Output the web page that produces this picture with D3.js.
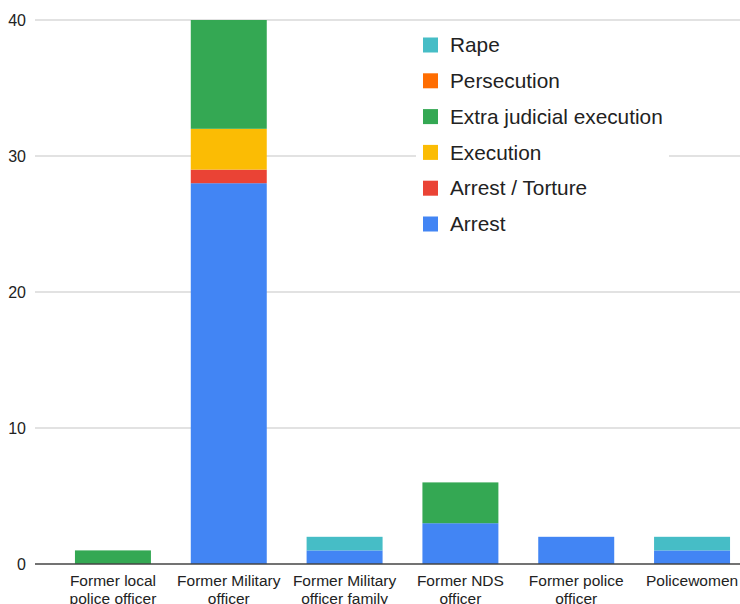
<!DOCTYPE html>
<html>
<head>
<meta charset="utf-8">
<script src="https://cdn.jsdelivr.net/npm/d3@7"></script>
<style>
  html, body { margin: 0; padding: 0; background: #fff; }
  svg { display: block; font-family: Arial, "Liberation Sans", sans-serif; }
</style>
</head>
<body>
<svg id="chart" width="740" height="604"></svg>
<script>
const categories = ["Former local police officer", "Former Military officer", "Former Military officer family", "Former NDS officer", "Former police officer", "Policewomen"];
const categoryLabelLines = [["Former local", "police officer"], ["Former Military", "officer"], ["Former Military", "officer family"], ["Former NDS", "officer"], ["Former police", "officer"], ["Policewomen"]];
const seriesNames = ["Arrest", "Arrest / Torture", "Execution", "Extra judicial execution", "Persecution", "Rape"];
const arrest = [0, 28, 1, 3, 2, 1];
const arrestTorture = [0, 1, 0, 0, 0, 0];
const execution = [0, 3, 0, 0, 0, 0];
const extraJudicial = [1, 8, 0, 3, 0, 0];
const persecution = [0, 0, 0, 0, 0, 0];
const rape = [0, 0, 1, 0, 0, 1];
const yTicks = [0, 10, 20, 30, 40];
const colors = ["#4285F4", "#EA4335", "#FBBC04", "#34A853", "#FF6D01", "#46BDC6"];

const seriesValues = [arrest, arrestTorture, execution, extraJudicial, persecution, rape];
const table = categories.map((c, i) => {
  const row = { category: c };
  seriesNames.forEach((s, j) => row[s] = seriesValues[j][i]);
  return row;
});

const svg = d3.select("#chart");
const plotLeft = 35, plotRight = 770, plotTop = 20, plotBottom = 564;

const x = d3.scaleBand().domain(categories).range([plotLeft, plotRight]).paddingInner(0.344).paddingOuter(0.345);
const y = d3.scaleLinear().domain([0, 40]).range([plotBottom, plotTop]);

// gridlines
svg.append("g").selectAll("line").data(yTicks.filter(d => d > 0)).join("line")
  .attr("x1", plotLeft).attr("x2", 740)
  .attr("y1", d => y(d)).attr("y2", d => y(d))
  .attr("stroke", "#d9d9d9").attr("stroke-width", 1.3);

// y labels
svg.append("g").selectAll("text").data(yTicks).join("text")
  .attr("x", 26).attr("y", d => y(d)).attr("dy", "0.35em")
  .attr("text-anchor", "end").attr("font-size", 16).attr("fill", "#222")
  .text(d => d);

// stacks
const stack = d3.stack().keys(seriesNames)(table);
svg.append("g").selectAll("g").data(stack).join("g")
  .attr("fill", (d, i) => colors[i])
  .selectAll("rect").data(d => d).join("rect")
  .attr("x", d => x(d.data.category))
  .attr("width", x.bandwidth())
  .attr("y", d => y(d[1]))
  .attr("height", d => y(d[0]) - y(d[1]));

// baseline
svg.append("line").attr("x1", plotLeft).attr("x2", 740)
  .attr("y1", y(0)).attr("y2", y(0))
  .attr("stroke", "#444").attr("stroke-width", 1.3);

// x labels
const xl = svg.append("g").selectAll("text").data(categories).join("text")
  .attr("x", d => x(d) + x.bandwidth() / 2)
  .attr("y", 586)
  .attr("text-anchor", "middle").attr("font-size", 15.5).attr("fill", "#222");
xl.each(function(d, i) {
  const t = d3.select(this);
  categoryLabelLines[i].forEach((line, k) => {
    t.append("tspan").attr("x", x(d) + x.bandwidth() / 2).attr("dy", k === 0 ? 0 : 17.5).text(line);
  });
});

// legend
const legendOrder = seriesNames.map((s, i) => ({ name: s, color: colors[i] })).reverse();
const lg = svg.append("g");
lg.append("rect").attr("x", 416).attr("y", 26).attr("width", 253).attr("height", 214).attr("fill", "#fff");
const items = lg.selectAll("g").data(legendOrder).join("g")
  .attr("transform", (d, i) => `translate(0, ${45 + i * 35.8})`);
items.append("rect").attr("x", 423).attr("y", -7.5).attr("width", 15).attr("height", 15).attr("fill", d => d.color);
items.append("text").attr("x", 450).attr("y", 0).attr("dy", "0.35em")
  .attr("font-size", 20.8).attr("fill", "#222").text(d => d.name);
</script>
</body>
</html>
